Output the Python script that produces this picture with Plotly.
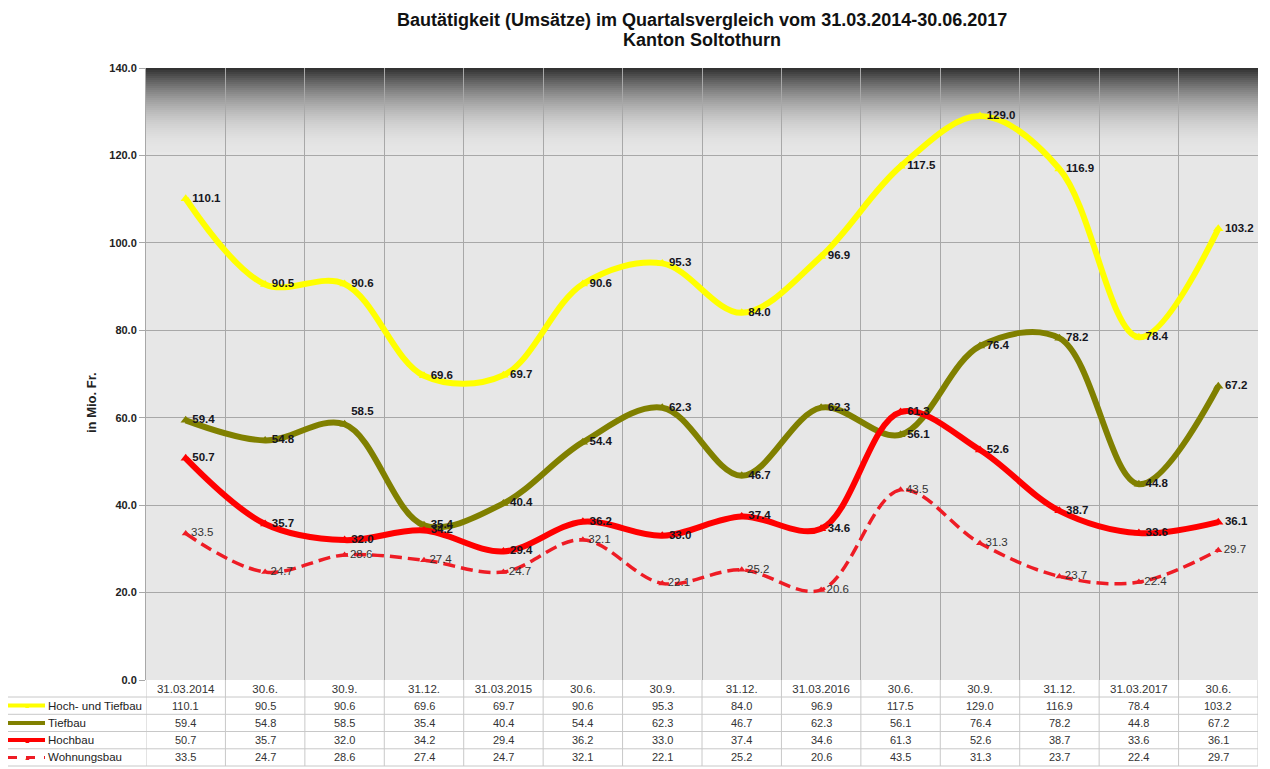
import plotly.graph_objects as go

quarters = ["31.03.2014", "30.6.", "30.9.", "31.12.", "31.03.2015", "30.6.", "30.9.",
            "31.12.", "31.03.2016", "30.6.", "30.9.", "31.12.", "31.03.2017", "30.6."]
hoch_tief = [110.1, 90.5, 90.6, 69.6, 69.7, 90.6, 95.3, 84.0, 96.9, 117.5, 129.0, 116.9, 78.4, 103.2]
tiefbau = [59.4, 54.8, 58.5, 35.4, 40.4, 54.4, 62.3, 46.7, 62.3, 56.1, 76.4, 78.2, 44.8, 67.2]
hochbau = [50.7, 35.7, 32.0, 34.2, 29.4, 36.2, 33.0, 37.4, 34.6, 61.3, 52.6, 38.7, 33.6, 36.1]
wohnungsbau = [33.5, 24.7, 28.6, 27.4, 24.7, 32.1, 22.1, 25.2, 20.6, 43.5, 31.3, 23.7, 22.4, 29.7]
series_names = ["Hoch- und Tiefbau", "Tiefbau", "Hochbau", "Wohnungsbau"]
title_lines = ["Bautätigkeit (Umsätze) im Quartalsvergleich vom 31.03.2014-30.06.2017",
               "Kanton Soltothurn"]

FONT = "Liberation Sans, Arial, sans-serif"
colors = ["#ffff00", "#808000", "#ff0000", "#ee1c25"]
widths = [6, 6, 6, 3.5]
dashes = ["solid", "solid", "solid", "12px,6px"]
all_series = [hoch_tief, tiefbau, hochbau, wohnungsbau]

x = list(range(len(quarters)))
fig = go.Figure()

for k, (name, vals) in enumerate(zip(series_names, all_series)):
    positions = ["middle right"] * len(vals)
    if k == 1:
        positions[2] = "top right"
    is_dashed = k == 3
    fig.add_trace(go.Scatter(
        x=x, y=vals, name=name,
        mode="lines+markers+text",
        line=dict(color=colors[k], width=widths[k], shape="spline", smoothing=1.0, dash=dashes[k]),
        marker=dict(symbol="triangle-up", size=7 if is_dashed else 9, color=colors[k]),
        text=[f"{v:.1f}" for v in vals],
        textposition=positions,
        textfont=dict(family=FONT, size=11.5,
                      color="#333333" if is_dashed else "#151520",
                      weight="normal" if is_dashed else "bold"),
        cliponaxis=False,
        showlegend=False,
    ))

shapes = []
plot_h = 612.0
plot_w = 1112.0
# top gradient band inside plot area
steps = 42
for i in range(steps):
    t = i / steps
    f = 1 - (1 - t) ** 2
    c = int(0x33 + (0xe6 - 0x33) * f)
    shapes.append(dict(type="rect", xref="paper", yref="paper", x0=0, x1=1,
                       y0=1 - (i + 1) * 2 / plot_h, y1=1 - i * 2 / plot_h,
                       fillcolor=f"rgb({c},{c},{c})", line=dict(width=0), layer="below"))

# data table below the plot
row_lines = [0, -17 / plot_h, -34.3 / plot_h, -51.5 / plot_h, -68.8 / plot_h, -86 / plot_h]
row_centers = [-(17 + 8.6) / plot_h, -(34.3 + 8.6) / plot_h, -(51.5 + 8.6) / plot_h, -(68.8 + 8.6) / plot_h]
left_px = (5 - 146) / plot_w
grid_c = "#c8c8c8"
for yl in row_lines[1:]:
    shapes.append(dict(type="line", xref="paper", yref="paper", x0=left_px, x1=1, y0=yl, y1=yl,
                       line=dict(color=grid_c, width=1)))
for b in [i - 0.5 for i in range(len(quarters) + 1)]:
    shapes.append(dict(type="line", xref="x", yref="paper", x0=b, x1=b, y0=0, y1=row_lines[-1],
                       line=dict(color=grid_c, width=1)))
shapes.append(dict(type="line", xref="paper", yref="paper", x0=left_px, x1=left_px,
                   y0=row_lines[1], y1=row_lines[-1], line=dict(color=grid_c, width=1)))

annotations = []
for k, (name, vals) in enumerate(zip(series_names, all_series)):
    yc = row_centers[k]
    sw0, sw1 = (8 - 146) / plot_w, (45 - 146) / plot_w
    shapes.append(dict(type="line", xref="paper", yref="paper", x0=sw0, x1=sw1, y0=yc, y1=yc,
                       line=dict(color=colors[k], width=4 if k < 3 else 3,
                                 dash="solid" if k < 3 else "dash")))
    annotations.append(dict(xref="paper", yref="paper", x=(27 - 146) / plot_w, y=yc,
                            text="▲", showarrow=False, font=dict(family=FONT, size=7, color=colors[k]),
                            xanchor="center", yanchor="middle"))
    annotations.append(dict(xref="paper", yref="paper", x=(46 - 146) / plot_w, y=yc,
                            text=name, showarrow=False, xanchor="left", yanchor="middle",
                            font=dict(family=FONT, size=11.5, color="#222222")))
    for i, v in enumerate(vals):
        annotations.append(dict(xref="x", yref="paper", x=i, y=yc, text=f"{v:.1f}",
                                showarrow=False, xanchor="center", yanchor="middle",
                                font=dict(family=FONT, size=11, color="#333333")))

annotations.append(dict(xref="paper", yref="paper", x=(91 - 146) / plot_w, y=(680 - 403) / plot_h,
                        text="<b>in Mio. Fr.</b>", textangle=-90, showarrow=False,
                        xanchor="center", yanchor="middle",
                        font=dict(family=FONT, size=13, color="#222222")))

# chart title: two lines, centred over the plot area
for line_text, py in zip(title_lines, [20, 40.5]):
    annotations.append(dict(xref="paper", yref="paper", x=0.5, y=1 + (68 - py) / plot_h,
                            text=f"<b>{line_text}</b>",
                            showarrow=False, xanchor="center", yanchor="middle",
                            font=dict(family=FONT, size=18, color="#111111")))

# the page body has an 8px margin, so the figure is 8px smaller and margins shifted
fig.update_layout(
    width=1262, height=761,
    margin=dict(l=138, r=12, t=60, b=89, autoexpand=False),
    paper_bgcolor="#ffffff",
    plot_bgcolor="#e7e7e7",
    shapes=shapes,
    annotations=annotations,
    showlegend=False,
)
fig.update_xaxes(
    range=[-0.5, len(quarters) - 0.5],
    tickmode="array", tickvals=x, ticktext=quarters,
    showgrid=False, zeroline=False, showline=False, ticks="",
    tickfont=dict(family=FONT, size=11.5, color="#333333"),
    minor=dict(tickmode="array", tickvals=[i + 0.5 for i in range(len(quarters) - 1)],
               showgrid=True, gridcolor="#a8a8a8", gridwidth=1, ticks=""),
    fixedrange=True,
)
fig.update_yaxes(
    range=[0, 140], dtick=20, tickformat=".1f",
    showgrid=True, gridcolor="#a8a8a8", gridwidth=1, zeroline=False,
    showline=True, linecolor="#a8a8a8", linewidth=1,
    ticks="outside", ticklen=6, tickcolor="#a8a8a8",
    tickfont=dict(family=FONT, size=11, color="#222222", weight="bold"),
    fixedrange=True,
)

fig.write_html("out.html")
